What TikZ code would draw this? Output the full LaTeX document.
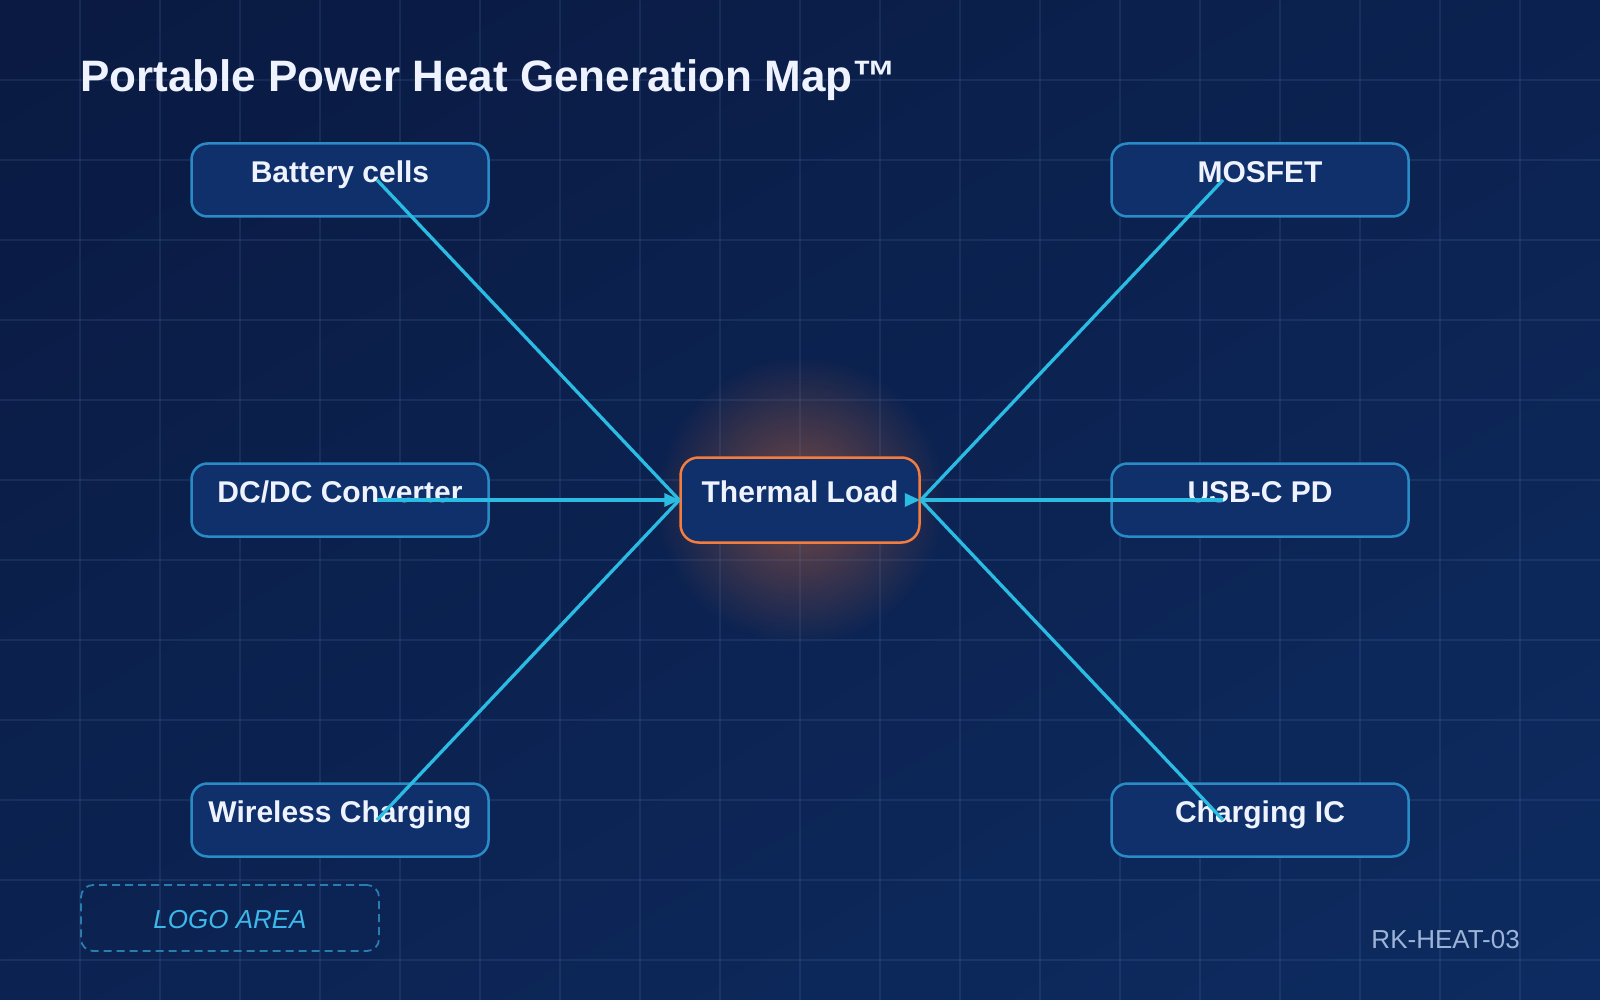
\documentclass[tikz,border=0pt]{standalone}
\usepackage{fontspec}
\setmainfont{Liberation Sans}
\usetikzlibrary{arrows.meta,fadings}
\definecolor{bgA}{HTML}{0A1A42}
\definecolor{bgB}{HTML}{0D2B60}
\definecolor{gridc}{HTML}{5A86C0}
\definecolor{boxfill}{HTML}{10306B}
\definecolor{boxline}{HTML}{2A8BC6}
\definecolor{connc}{HTML}{2BBCE4}
\definecolor{heat}{HTML}{F47C3C}
\definecolor{glowc}{HTML}{E0703A}
\definecolor{txt}{HTML}{EEF3FF}
\definecolor{tagc}{HTML}{9DB3D8}
\definecolor{logoline}{HTML}{2A7DB0}
\definecolor{logotxt}{HTML}{3DB8E8}
\tikzfading[name=glowfade, inner color=transparent!50, outer color=transparent!100]
\tikzset{
  box/.style={draw=boxline, line width=2.5pt, fill=boxfill, rounded corners=16pt,
    minimum width=297pt, minimum height=73pt, inner sep=0pt},
  hub/.style={draw=heat, line width=2.5pt, fill=boxfill, rounded corners=18pt,
    minimum width=239pt, minimum height=85pt, inner sep=0pt},
  lbl/.style={text=txt, font=\bfseries\fontsize{30}{36}\selectfont, anchor=base, inner sep=0pt},
  conn/.style={draw=connc, line width=3.3pt},
  tipfill/.style={fill=connc},
  gridline/.style={draw=gridc, draw opacity=0.15, line width=1.2pt},
  logobox/.style={draw=logoline, line width=1.8pt, dash pattern=on 8pt off 5pt,
    rounded corners=12pt, minimum width=298pt, minimum height=66pt, inner sep=0pt},
}
\begin{document}
\begin{tikzpicture}[x=1pt,y=-1pt]
\useasboundingbox (0,0) rectangle (1600,1000);
% background
\shade[top color=bgA, bottom color=bgB, shading angle=30] (-200,-200) rectangle (1800,1200);
% glow
\fill[glowc, path fading=glowfade] (800,500) circle (145);
% grid
\foreach \x in {80,160,...,1520} \draw[gridline] (\x,0) -- (\x,1000);
\foreach \y in {80,160,...,960} \draw[gridline] (0,\y) -- (1600,\y);
% title
\node[anchor=base west, text=txt, font=\bfseries\fontsize{44}{50}\selectfont, inner sep=0pt]
  (title) at (80,92) {Portable Power Heat Generation Map™};
% boxes
\node[box] (bat) at (340,180) {};
\node[box] (dcdc) at (340,500) {};
\node[box] (wire) at (340,820) {};
\node[box] (mos) at (1260,180) {};
\node[box] (usb) at (1260,500) {};
\node[box] (chg) at (1260,820) {};
\node[hub] (T) at (800,500) {};
% labels
\node[lbl] (batL) at (340,182.5) {Battery cells};
\node[lbl] (dcdcL) at (340,502.5) {DC/DC Converter};
\node[lbl] (wireL) at (340,822.5) {Wireless Charging};
\node[lbl] (mosL) at (1260,182.5) {MOSFET};
\node[lbl] (usbL) at (1260,502.5) {USB-C PD};
\node[lbl] (chgL) at (1260,822.5) {Charging IC};
\node[lbl] (TL) at (800,502.5) {Thermal Load};
% connector start points
\coordinate (batS) at ([xshift=37pt]bat.center);
\coordinate (dcdcS) at ([xshift=37pt]dcdc.center);
\coordinate (wireS) at ([xshift=37pt]wire.center);
\coordinate (mosS) at ([xshift=-37pt]mos.center);
\coordinate (usbS) at ([xshift=-37pt]usb.center);
\coordinate (chgS) at ([xshift=-37pt]chg.center);
% connectors
\draw[conn] (batS) -- (T.west);
\draw[conn] (dcdcS) -- (T.west);
\draw[conn] (wireS) -- (T.west);
\draw[conn] (mosS) -- (T.east);
\draw[conn] (usbS) -- (T.east);
\draw[conn] (chgS) -- (T.east);
% arrowheads (fixed orientation, pointing right)
\fill[tipfill] (T.west) -- ++(-15,-7) -- ++(0,14) -- cycle;
\fill[tipfill] ([xshift=-1pt]T.east) -- ++(-15,-7) -- ++(0,14) -- cycle;
% logo area
\node[logobox] (logo) at (230,918) {};
\node[anchor=base, text=logotxt, font=\itshape\fontsize{26}{30}\selectfont, inner sep=0pt]
  (logoL) at (230,928) {LOGO AREA};
% tag
\node[anchor=base east, text=tagc, font=\fontsize{26}{30}\selectfont, inner sep=0pt]
  (tag) at (1520,948) {RK-HEAT-03};
\end{tikzpicture}
\end{document}
